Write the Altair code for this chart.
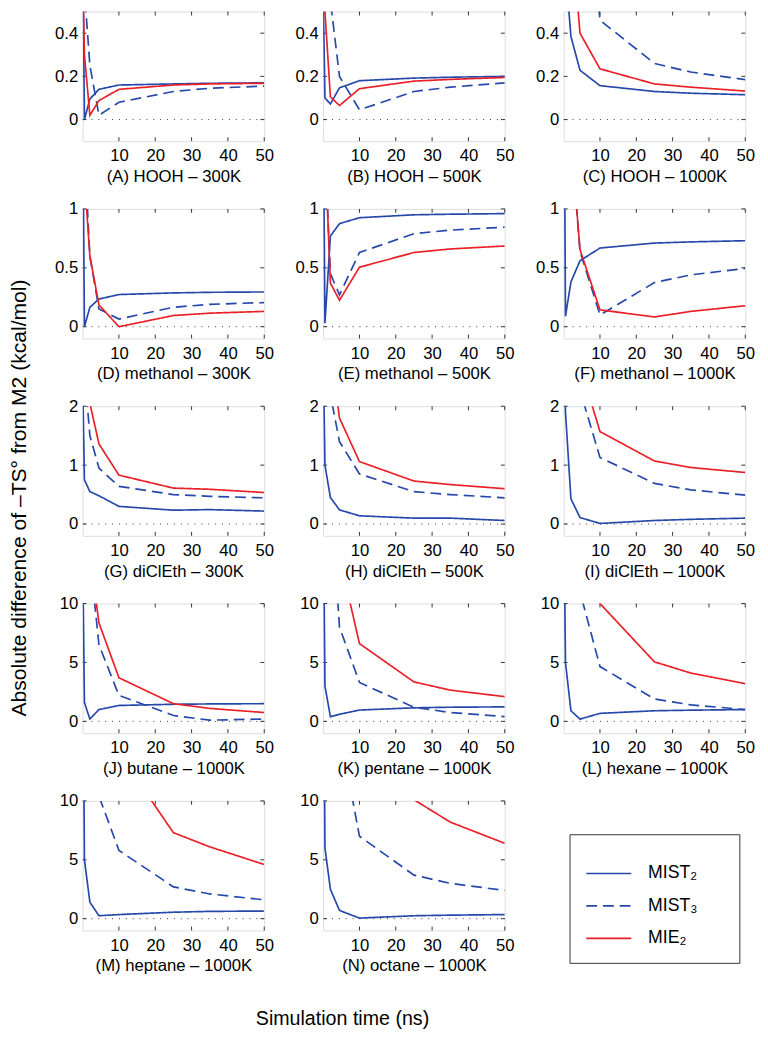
import altair as alt
import pandas as pd

# simulation times (ns) at which each curve is sampled
T = [0, 0.5, 2, 4.5, 10, 25, 35, 50]
SERIES = ["MIST₂", "MIST₃", "MIE₂"]
X_TICKS = [10, 20, 30, 40, 50]

TITLES = [
    "(A) HOOH – 300K", "(B) HOOH – 500K", "(C) HOOH – 1000K",
    "(D) methanol – 300K", "(E) methanol – 500K", "(F) methanol – 1000K",
    "(G) diClEth – 300K", "(H) diClEth – 500K", "(I) diClEth – 1000K",
    "(J) butane – 1000K", "(K) pentane – 1000K", "(L) hexane – 1000K",
    "(M) heptane – 1000K", "(N) octane – 1000K",
]

ROW_DOMAINS = [[-0.1, 0.5], [-0.1, 1], [-0.2, 2], [-1, 10], [-1, 10]]
ROW_TICKS = [[0, 0.2, 0.4], [0, 0.5, 1], [0, 1, 2], [0, 5, 10], [0, 5, 10]]

# values: MIST2, MIST3, MIE2 per panel
A_MIST2 = [0.9, 0.0, 0.095, 0.14, 0.16, 0.165, 0.168, 0.17]
A_MIST3 = [0.7, 0.6, 0.25, 0.02, 0.08, 0.13, 0.145, 0.155]
A_MIE2 = [0.7, 0.3, 0.02, 0.088, 0.14, 0.16, 0.165, 0.168]

B_MIST2 = [0.6, 0.1, 0.072, 0.147, 0.18, 0.192, 0.196, 0.2]
B_MIST3 = [2, 1.5, 0.55, 0.2, 0.045, 0.13, 0.15, 0.17]
B_MIE2 = [0.9, 0.5, 0.105, 0.065, 0.143, 0.178, 0.186, 0.195]

C_MIST2 = [1.5, 0.7, 0.385, 0.228, 0.157, 0.13, 0.122, 0.115]
C_MIST3 = [5, 4, 2.5, 1.5, 0.46, 0.26, 0.22, 0.185]
C_MIE2 = [3, 2, 0.9, 0.4, 0.235, 0.165, 0.15, 0.132]

D_MIST2 = [2, 0.0, 0.165, 0.235, 0.273, 0.287, 0.292, 0.295]
D_MIST3 = [3, 1.5, 0.6, 0.15, 0.065, 0.165, 0.19, 0.205]
D_MIE2 = [3, 1.27, 0.6, 0.185, 0.0, 0.095, 0.115, 0.13]

E_MIST2 = [2, 0.03, 0.77, 0.875, 0.925, 0.95, 0.955, 0.96]
E_MIST3 = [3, 1.5, 0.45, 0.27, 0.63, 0.79, 0.82, 0.845]
E_MIE2 = [5, 1.55, 0.37, 0.225, 0.505, 0.63, 0.66, 0.685]

F_MIST2 = [3, 0.088, 0.38, 0.56, 0.668, 0.71, 0.72, 0.73]
F_MIST3 = [5, 3, 1.6, 0.64, 0.1, 0.375, 0.44, 0.495]
F_MIE2 = [5, 4, 1.61, 0.655, 0.143, 0.083, 0.13, 0.178]

G_MIST2 = [2.5, 0.75, 0.55, 0.48, 0.3, 0.235, 0.245, 0.22]
G_MIST3 = [5, 2.6, 1.5, 0.95, 0.64, 0.5, 0.47, 0.445]
G_MIE2 = [6, 4, 2.05, 1.36, 0.83, 0.61, 0.59, 0.535]

H_MIST2 = [3, 1.0, 0.45, 0.24, 0.14, 0.1, 0.1, 0.06]
H_MIST3 = [6, 4, 2.2, 1.4, 0.85, 0.55, 0.5, 0.445]
H_MIE2 = [8, 6, 3, 1.8, 1.06, 0.73, 0.67, 0.6]

I_MIST2 = [5, 1.9, 0.43, 0.11, 0.01, 0.06, 0.08, 0.1]
I_MIST3 = [10, 7, 4, 2.27, 1.13, 0.69, 0.58, 0.49]
I_MIE2 = [10, 8, 5, 2.7, 1.57, 1.07, 0.96, 0.875]

J_MIST2 = [15, 1.6, 0.2, 1.0, 1.35, 1.45, 1.48, 1.5]
J_MIST3 = [30, 20, 14, 6.5, 2.2, 0.5, 0.1, 0.2]
J_MIE2 = [20, 15, 14.2, 8.35, 3.7, 1.5, 1.1, 0.75]

K_MIST2 = [20, 3, 0.4, 0.6, 0.96, 1.15, 1.2, 1.23]
K_MIST3 = [40, 30, 20, 8, 3.3, 1.2, 0.75, 0.4]
K_MIE2 = [30, 28, 20, 14, 6.6, 3.35, 2.65, 2.1]

L_MIST2 = [20, 5, 0.9, 0.19, 0.68, 0.9, 0.95, 1.0]
L_MIST3 = [40, 30, 20, 11, 4.65, 1.9, 1.4, 1.0]
L_MIE2 = [40, 35, 25, 16, 10.0, 5.05, 4.1, 3.2]

M_MIST2 = [30, 5, 1.4, 0.25, 0.35, 0.55, 0.62, 0.65]
M_MIST3 = [40, 30, 20, 10.4, 5.8, 2.7, 2.1, 1.6]
M_MIE2 = [60, 50, 40, 25, 14.05, 7.3, 6.1, 4.6]

N_MIST2 = [30, 6, 2.5, 0.7, 0.05, 0.25, 0.3, 0.35]
N_MIST3 = [50, 40, 25, 16, 7.0, 3.7, 3.0, 2.4]
N_MIE2 = [80, 70, 50, 35, 20, 10.1, 8.2, 6.4]

PANELS = [
    (A_MIST2, A_MIST3, A_MIE2), (B_MIST2, B_MIST3, B_MIE2), (C_MIST2, C_MIST3, C_MIE2),
    (D_MIST2, D_MIST3, D_MIE2), (E_MIST2, E_MIST3, E_MIE2), (F_MIST2, F_MIST3, F_MIE2),
    (G_MIST2, G_MIST3, G_MIE2), (H_MIST2, H_MIST3, H_MIE2), (I_MIST2, I_MIST3, I_MIE2),
    (J_MIST2, J_MIST3, J_MIE2), (K_MIST2, K_MIST3, K_MIE2), (L_MIST2, L_MIST3, L_MIE2),
    (M_MIST2, M_MIST3, M_MIE2), (N_MIST2, N_MIST3, N_MIE2),
]

BLUE = "#2548aa"
RED = "#ea1f27"
FRAME = "#333333"
FONT = "Liberation Sans"
W, H = 185, 132

LEGEND = alt.Legend(
    orient="none", legendX=496, legendY=838, title=None,
    symbolType="stroke", symbolSize=2100, symbolStrokeWidth=1.7,
    labelFontSize=18, labelFont=FONT, labelColor="black",
    labelExpr="datum.label + '\u2800\u2800'",
    strokeColor=FRAME, fillColor="white", padding=16,
    rowPadding=-2, labelOffset=16, symbolOffset=0,
)
color_enc = alt.Color(
    "series:N", scale=alt.Scale(domain=SERIES, range=[BLUE, BLUE, RED]), legend=LEGEND
)
dash_enc = alt.StrokeDash(
    "series:N", scale=alt.Scale(domain=SERIES, range=[[1, 0], [11, 6], [1, 0]]), legend=LEGEND
)


def panel(i):
    row = i // 3
    m2, m3, e2 = PANELS[i]
    recs = []
    for s, vals in zip(SERIES, (m2, m3, e2)):
        for t, v in zip(T, vals):
            recs.append({"t": t, "v": v, "series": s})
    df = pd.DataFrame(recs)
    xs = alt.Scale(domain=[0, 50], nice=False, zero=False)
    ys = alt.Scale(domain=ROW_DOMAINS[row], nice=False, zero=False)
    xaxis = alt.Axis(
        values=X_TICKS, title=TITLES[i], tickSize=0, domain=False, grid=False,
        labelFontSize=17, titleFontSize=17, labelPadding=7, titlePadding=5,
        titleFontWeight="normal", labelFlush=False, labelOverlap=False,
        labelColor="black", titleColor="black", labelFont=FONT, titleFont=FONT,
    )
    yargs = dict(
        values=ROW_TICKS[row], labelExpr="'' + datum.value", tickSize=0, domain=False,
        grid=False, labelFontSize=17, labelPadding=5, minExtent=30, maxExtent=30,
        labelFlush=False, labelOverlap=False, labelColor="black", labelFont=FONT,
        titleFontSize=21.5, titlePadding=23, titleFontWeight="normal",
        titleColor="black", titleFont=FONT,
    )
    if i == 6:
        yargs["title"] = "Absolute difference of –TS° from M2 (kcal/mol)"
        yargs["titleY"] = H / 2 + 27
    else:
        yargs["title"] = None
    yaxis = alt.Axis(**yargs)

    base = alt.Chart(df)
    layers = []
    for s in ["MIST₃", "MIST₂", "MIE₂"]:
        layers.append(
            base.transform_filter(alt.datum.series == s)
            .mark_line(clip=True, strokeWidth=1.7)
            .encode(
                x=alt.X("t:Q", scale=xs, axis=xaxis),
                y=alt.Y("v:Q", scale=ys, axis=yaxis),
                color=color_enc,
                strokeDash=dash_enc,
            )
        )
    zero = alt.Chart(pd.DataFrame({"v": [0]})).mark_rule(
        color=FRAME, strokeWidth=1, strokeDash=[1, 6]
    ).encode(y=alt.Y("v:Q", scale=ys, axis=yaxis))
    xt = pd.DataFrame({"t": X_TICKS})
    xt_top = alt.Chart(xt).mark_rule(color=FRAME, strokeWidth=1).encode(
        x=alt.X("t:Q", scale=xs, axis=xaxis), y=alt.value(0), y2=alt.value(4))
    xt_bot = alt.Chart(xt).mark_rule(color=FRAME, strokeWidth=1).encode(
        x=alt.X("t:Q", scale=xs, axis=xaxis), y=alt.value(H), y2=alt.value(H - 4))
    yt = pd.DataFrame({"v": ROW_TICKS[row]})
    yt_l = alt.Chart(yt).mark_rule(color=FRAME, strokeWidth=1).encode(
        y=alt.Y("v:Q", scale=ys, axis=yaxis), x=alt.value(0), x2=alt.value(4))
    yt_r = alt.Chart(yt).mark_rule(color=FRAME, strokeWidth=1).encode(
        y=alt.Y("v:Q", scale=ys, axis=yaxis), x=alt.value(W), x2=alt.value(W - 4))
    return alt.layer(zero, xt_top, xt_bot, yt_l, yt_r, *layers).properties(width=W, height=H)


chart = (
    alt.concat(*[panel(i) for i in range(14)], columns=3,
               spacing={"row": 69, "column": 60}, bounds="flush")
    .resolve_scale(x="independent", y="independent", color="shared", strokeDash="shared")
    .properties(
        padding={"left": 0, "top": -7, "right": 5, "bottom": 5},
        title=alt.TitleParams(
            "Simulation time (ns)", orient="bottom", anchor="middle", dx=-40,
            fontSize=20, fontWeight="normal", font=FONT, color="black", offset=36,
        ),
    )
    .configure_view(stroke=FRAME, strokeWidth=1)
    .configure(font=FONT)
)

chart.save("out.html", embed_options={"renderer": "svg", "actions": False})
